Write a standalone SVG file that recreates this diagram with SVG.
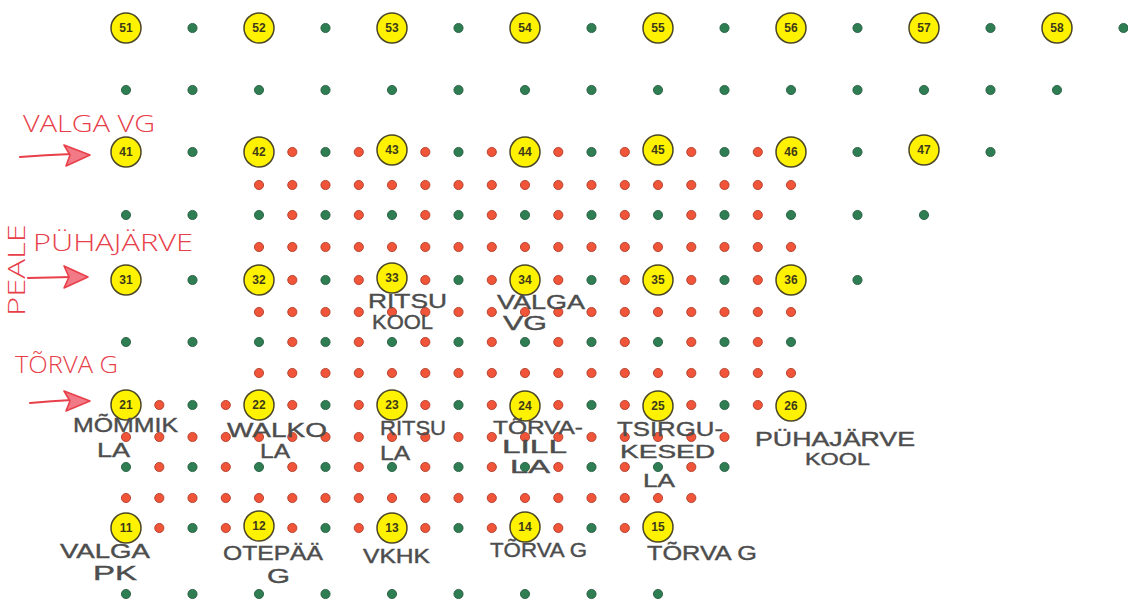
<svg xmlns="http://www.w3.org/2000/svg" xmlns:xlink="http://www.w3.org/1999/xlink" width="1128" height="601" viewBox="0 0 1128 601">
<style>
.yc{fill:#fff200;stroke:#4a4626;stroke-width:1.5}
.yt{font-family:"Liberation Sans","Open Sans",Arial,sans-serif;font-size:12px;font-weight:bold;fill:#3d3a1a;text-anchor:middle}
.hw{font-family:"Liberation Sans","DejaVu Sans",Arial,sans-serif;font-size:21px;fill:#4d4d4d;stroke:#4d4d4d;stroke-width:0.4}
.hs{font-size:18px}
.rw{font-family:"Open Sans","Liberation Sans",Arial,sans-serif;font-weight:300;font-size:24px;fill:#e8404a}
.ar{stroke:#e8404a;stroke-width:2.2;fill:none;stroke-linecap:round}
.ah{stroke:#e8404a;stroke-width:1.6;fill:#f27a86;stroke-linejoin:round}
</style>
<defs>
<circle id="g" cx="0" cy="0" r="4.6" fill="#2f7d52" stroke="#1e573a" stroke-width="0.8"/>
<circle id="r" cx="0" cy="0" r="4.6" fill="#f0553a" stroke="#a8341f" stroke-width="0.8"/>
</defs>
<rect width="1128" height="601" fill="#ffffff"/>

<g id="dots">
<!-- row y=28 -->
<use href="#g" x="192.5" y="28"/><use href="#g" x="325.5" y="28"/><use href="#g" x="458.5" y="28"/><use href="#g" x="591.5" y="28"/><use href="#g" x="724.5" y="28"/><use href="#g" x="857.5" y="28"/><use href="#g" x="990.5" y="28"/><use href="#g" x="1123.5" y="28"/>
<!-- row y=90 -->
<use href="#g" x="126" y="90"/><use href="#g" x="192.5" y="90"/><use href="#g" x="259" y="90"/><use href="#g" x="325.5" y="90"/><use href="#g" x="392" y="90"/><use href="#g" x="458.5" y="90"/><use href="#g" x="525" y="90"/><use href="#g" x="591.5" y="90"/><use href="#g" x="658" y="90"/><use href="#g" x="724.5" y="90"/><use href="#g" x="791" y="90"/><use href="#g" x="857.5" y="90"/><use href="#g" x="924" y="90"/><use href="#g" x="990.5" y="90"/><use href="#g" x="1057" y="90"/>
<!-- row y=152 -->
<use href="#g" x="192.5" y="152"/><use href="#r" x="292.3" y="152"/><use href="#g" x="325.5" y="152"/><use href="#r" x="358.8" y="152"/><use href="#r" x="425.3" y="152"/><use href="#g" x="458.5" y="152"/><use href="#r" x="491.8" y="152"/><use href="#r" x="558.3" y="152"/><use href="#g" x="591.5" y="152"/><use href="#r" x="624.8" y="152"/><use href="#r" x="691.3" y="152"/><use href="#g" x="724.5" y="152"/><use href="#r" x="757.8" y="152"/><use href="#g" x="857.5" y="152"/><use href="#g" x="990.5" y="152"/>
<!-- row y=185 -->
<use href="#r" x="259" y="185"/><use href="#r" x="292.3" y="185"/><use href="#r" x="325.5" y="185"/><use href="#r" x="358.8" y="185"/><use href="#r" x="392" y="185"/><use href="#r" x="425.3" y="185"/><use href="#r" x="458.5" y="185"/><use href="#r" x="491.8" y="185"/><use href="#r" x="525" y="185"/><use href="#r" x="558.3" y="185"/><use href="#r" x="591.5" y="185"/><use href="#r" x="624.8" y="185"/><use href="#r" x="658" y="185"/><use href="#r" x="691.3" y="185"/><use href="#r" x="724.5" y="185"/><use href="#r" x="757.8" y="185"/><use href="#r" x="791" y="185"/>
<!-- row y=215 -->
<use href="#g" x="126" y="215"/><use href="#g" x="192.5" y="215"/><use href="#g" x="259" y="215"/><use href="#r" x="292.3" y="215"/><use href="#g" x="325.5" y="215"/><use href="#r" x="358.8" y="215"/><use href="#g" x="392" y="215"/><use href="#r" x="425.3" y="215"/><use href="#g" x="458.5" y="215"/><use href="#r" x="491.8" y="215"/><use href="#g" x="525" y="215"/><use href="#r" x="558.3" y="215"/><use href="#g" x="591.5" y="215"/><use href="#r" x="624.8" y="215"/><use href="#g" x="658" y="215"/><use href="#r" x="691.3" y="215"/><use href="#g" x="724.5" y="215"/><use href="#r" x="757.8" y="215"/><use href="#g" x="791" y="215"/><use href="#g" x="857.5" y="215"/><use href="#g" x="924" y="215"/>
<!-- row y=247 -->
<use href="#r" x="259" y="247"/><use href="#r" x="292.3" y="247"/><use href="#r" x="325.5" y="247"/><use href="#r" x="358.8" y="247"/><use href="#r" x="392" y="247"/><use href="#r" x="425.3" y="247"/><use href="#r" x="458.5" y="247"/><use href="#r" x="491.8" y="247"/><use href="#r" x="525" y="247"/><use href="#r" x="558.3" y="247"/><use href="#r" x="591.5" y="247"/><use href="#r" x="624.8" y="247"/><use href="#r" x="658" y="247"/><use href="#r" x="691.3" y="247"/><use href="#r" x="724.5" y="247"/><use href="#r" x="757.8" y="247"/><use href="#r" x="791" y="247"/>
<!-- row y=280 -->
<use href="#g" x="192.5" y="280"/><use href="#r" x="292.3" y="280"/><use href="#g" x="325.5" y="280"/><use href="#r" x="358.8" y="280"/><use href="#r" x="425.3" y="280"/><use href="#g" x="458.5" y="280"/><use href="#r" x="491.8" y="280"/><use href="#r" x="558.3" y="280"/><use href="#g" x="591.5" y="280"/><use href="#r" x="624.8" y="280"/><use href="#r" x="691.3" y="280"/><use href="#g" x="724.5" y="280"/><use href="#r" x="757.8" y="280"/><use href="#g" x="857.5" y="280"/>
<!-- row y=312 -->
<use href="#r" x="259" y="312"/><use href="#r" x="292.3" y="312"/><use href="#r" x="325.5" y="312"/><use href="#r" x="358.8" y="312"/><use href="#r" x="392" y="312"/><use href="#r" x="425.3" y="312"/><use href="#r" x="458.5" y="312"/><use href="#r" x="491.8" y="312"/><use href="#r" x="525" y="312"/><use href="#r" x="558.3" y="312"/><use href="#r" x="591.5" y="312"/><use href="#r" x="624.8" y="312"/><use href="#r" x="658" y="312"/><use href="#r" x="691.3" y="312"/><use href="#r" x="724.5" y="312"/><use href="#r" x="757.8" y="312"/><use href="#r" x="791" y="312"/>
<!-- row y=342 -->
<use href="#g" x="126" y="342"/><use href="#g" x="192.5" y="342"/><use href="#g" x="259" y="342"/><use href="#r" x="292.3" y="342"/><use href="#g" x="325.5" y="342"/><use href="#r" x="358.8" y="342"/><use href="#g" x="392" y="342"/><use href="#r" x="425.3" y="342"/><use href="#g" x="458.5" y="342"/><use href="#r" x="491.8" y="342"/><use href="#g" x="525" y="342"/><use href="#r" x="558.3" y="342"/><use href="#g" x="591.5" y="342"/><use href="#r" x="624.8" y="342"/><use href="#g" x="658" y="342"/><use href="#r" x="691.3" y="342"/><use href="#g" x="724.5" y="342"/><use href="#r" x="757.8" y="342"/><use href="#g" x="791" y="342"/>
<!-- row y=373 -->
<use href="#r" x="259" y="373"/><use href="#r" x="292.3" y="373"/><use href="#r" x="325.5" y="373"/><use href="#r" x="358.8" y="373"/><use href="#r" x="392" y="373"/><use href="#r" x="425.3" y="373"/><use href="#r" x="458.5" y="373"/><use href="#r" x="491.8" y="373"/><use href="#r" x="525" y="373"/><use href="#r" x="558.3" y="373"/><use href="#r" x="591.5" y="373"/><use href="#r" x="624.8" y="373"/><use href="#r" x="658" y="373"/><use href="#r" x="691.3" y="373"/><use href="#r" x="724.5" y="373"/><use href="#r" x="757.8" y="373"/><use href="#r" x="791" y="373"/>
<!-- row y=405 -->
<use href="#r" x="159.3" y="405"/><use href="#g" x="192.5" y="405"/><use href="#r" x="225.8" y="405"/><use href="#r" x="292.3" y="405"/><use href="#g" x="325.5" y="405"/><use href="#r" x="358.8" y="405"/><use href="#r" x="425.3" y="405"/><use href="#g" x="458.5" y="405"/><use href="#r" x="491.8" y="405"/><use href="#r" x="558.3" y="405"/><use href="#g" x="591.5" y="405"/><use href="#r" x="624.8" y="405"/><use href="#r" x="691.3" y="405"/><use href="#g" x="724.5" y="405"/><use href="#r" x="757.8" y="405"/>
<!-- row y=437 -->
<use href="#r" x="126" y="437"/><use href="#r" x="159.3" y="437"/><use href="#r" x="192.5" y="437"/><use href="#r" x="225.8" y="437"/><use href="#r" x="259" y="437"/><use href="#r" x="292.3" y="437"/><use href="#r" x="325.5" y="437"/><use href="#r" x="358.8" y="437"/><use href="#r" x="392" y="437"/><use href="#r" x="425.3" y="437"/><use href="#r" x="458.5" y="437"/><use href="#r" x="491.8" y="437"/><use href="#r" x="525" y="437"/><use href="#r" x="558.3" y="437"/><use href="#r" x="591.5" y="437"/><use href="#r" x="624.8" y="437"/><use href="#r" x="658" y="437"/><use href="#r" x="691.3" y="437"/><use href="#r" x="724.5" y="437"/>
<!-- row y=467 -->
<use href="#g" x="126" y="467"/><use href="#r" x="159.3" y="467"/><use href="#g" x="192.5" y="467"/><use href="#r" x="225.8" y="467"/><use href="#g" x="259" y="467"/><use href="#r" x="292.3" y="467"/><use href="#g" x="325.5" y="467"/><use href="#r" x="358.8" y="467"/><use href="#g" x="392" y="467"/><use href="#r" x="425.3" y="467"/><use href="#g" x="458.5" y="467"/><use href="#r" x="491.8" y="467"/><use href="#g" x="525" y="467"/><use href="#r" x="558.3" y="467"/><use href="#g" x="591.5" y="467"/><use href="#r" x="624.8" y="467"/><use href="#g" x="658" y="467"/><use href="#r" x="691.3" y="467"/><use href="#g" x="724.5" y="467"/>
<!-- row y=498 -->
<use href="#r" x="126" y="498"/><use href="#r" x="159.3" y="498"/><use href="#r" x="192.5" y="498"/><use href="#r" x="225.8" y="498"/><use href="#r" x="259" y="498"/><use href="#r" x="292.3" y="498"/><use href="#r" x="325.5" y="498"/><use href="#r" x="358.8" y="498"/><use href="#r" x="392" y="498"/><use href="#r" x="425.3" y="498"/><use href="#r" x="458.5" y="498"/><use href="#r" x="491.8" y="498"/><use href="#r" x="525" y="498"/><use href="#r" x="558.3" y="498"/><use href="#r" x="591.5" y="498"/><use href="#r" x="624.8" y="498"/><use href="#r" x="658" y="498"/><use href="#r" x="691.3" y="498"/>
<!-- row y=528 -->
<use href="#r" x="159.3" y="528"/><use href="#g" x="192.5" y="528"/><use href="#r" x="225.8" y="528"/><use href="#r" x="292.3" y="528"/><use href="#g" x="325.5" y="528"/><use href="#r" x="358.8" y="528"/><use href="#r" x="425.3" y="528"/><use href="#g" x="458.5" y="528"/><use href="#r" x="491.8" y="528"/><use href="#r" x="558.3" y="528"/><use href="#g" x="591.5" y="528"/><use href="#r" x="624.8" y="528"/>
<!-- row y=594 -->
<use href="#g" x="126" y="594"/><use href="#g" x="192.5" y="594"/><use href="#g" x="259" y="594"/><use href="#g" x="325.5" y="594"/><use href="#g" x="392" y="594"/><use href="#g" x="458.5" y="594"/><use href="#g" x="525" y="594"/><use href="#g" x="591.5" y="594"/><use href="#g" x="658" y="594"/>
</g>

<g id="n51"><circle class="yc" cx="126" cy="28" r="15"/><text class="yt" x="126" y="32">51</text></g>
<g id="n52"><circle class="yc" cx="259" cy="28" r="15"/><text class="yt" x="259" y="32">52</text></g>
<g id="n53"><circle class="yc" cx="392" cy="28" r="15"/><text class="yt" x="392" y="32">53</text></g>
<g id="n54"><circle class="yc" cx="525" cy="28" r="15"/><text class="yt" x="525" y="32">54</text></g>
<g id="n55"><circle class="yc" cx="658" cy="28" r="15"/><text class="yt" x="658" y="32">55</text></g>
<g id="n56"><circle class="yc" cx="791" cy="28" r="15"/><text class="yt" x="791" y="32">56</text></g>
<g id="n57"><circle class="yc" cx="924" cy="28" r="15"/><text class="yt" x="924" y="32">57</text></g>
<g id="n58"><circle class="yc" cx="1057" cy="28" r="15"/><text class="yt" x="1057" y="32">58</text></g>

<g id="n41"><circle class="yc" cx="126" cy="152" r="15"/><text class="yt" x="126" y="156">41</text></g>
<g id="n42"><circle class="yc" cx="259" cy="152" r="15"/><text class="yt" x="259" y="156">42</text></g>
<g id="n43"><circle class="yc" cx="392" cy="150" r="15"/><text class="yt" x="392" y="154">43</text></g>
<g id="n44"><circle class="yc" cx="525" cy="152" r="15"/><text class="yt" x="525" y="156">44</text></g>
<g id="n45"><circle class="yc" cx="658" cy="150" r="15"/><text class="yt" x="658" y="154">45</text></g>
<g id="n46"><circle class="yc" cx="791" cy="152" r="15"/><text class="yt" x="791" y="156">46</text></g>
<g id="n47"><circle class="yc" cx="924" cy="150" r="15"/><text class="yt" x="924" y="154">47</text></g>

<g id="n31"><circle class="yc" cx="126" cy="280" r="15"/><text class="yt" x="126" y="284">31</text></g>
<g id="n32"><circle class="yc" cx="259" cy="280" r="15"/><text class="yt" x="259" y="284">32</text></g>
<g id="n33"><circle class="yc" cx="392" cy="278" r="15"/><text class="yt" x="392" y="282">33</text></g>
<g id="n34"><circle class="yc" cx="525" cy="280" r="15"/><text class="yt" x="525" y="284">34</text></g>
<g id="n35"><circle class="yc" cx="658" cy="280" r="15"/><text class="yt" x="658" y="284">35</text></g>
<g id="n36"><circle class="yc" cx="791" cy="280" r="15"/><text class="yt" x="791" y="284">36</text></g>

<g id="n21"><circle class="yc" cx="126" cy="405" r="15"/><text class="yt" x="126" y="409">21</text></g>
<g id="n22"><circle class="yc" cx="259" cy="405" r="15"/><text class="yt" x="259" y="409">22</text></g>
<g id="n23"><circle class="yc" cx="392" cy="405" r="15"/><text class="yt" x="392" y="409">23</text></g>
<g id="n24"><circle class="yc" cx="525" cy="406" r="15"/><text class="yt" x="525" y="410">24</text></g>
<g id="n25"><circle class="yc" cx="658" cy="406" r="15"/><text class="yt" x="658" y="410">25</text></g>
<g id="n26"><circle class="yc" cx="791" cy="406" r="15"/><text class="yt" x="791" y="410">26</text></g>

<g id="n11"><circle class="yc" cx="126" cy="528" r="15"/><text class="yt" x="126" y="532">11</text></g>
<g id="n12"><circle class="yc" cx="259" cy="526" r="15"/><text class="yt" x="259" y="530">12</text></g>
<g id="n13"><circle class="yc" cx="392" cy="528" r="15"/><text class="yt" x="392" y="532">13</text></g>
<g id="n14"><circle class="yc" cx="525" cy="527" r="15"/><text class="yt" x="525" y="531">14</text></g>
<g id="n15"><circle class="yc" cx="658" cy="527" r="15"/><text class="yt" x="658" y="531">15</text></g>

<g id="connectors">
<path class="ar" d="M20 157 Q45 155 72 154"/>
<path class="ah" d="M64 145 L90 155 L66 166 L70 155 Z"/>
<path class="ar" d="M28 278 L72 277"/>
<path class="ah" d="M64 266 L88 277 L64 288 L69 277 Z"/>
<path class="ar" d="M30 403 Q52 401 72 400"/>
<path class="ah" d="M64 391 L90 401 L66 411 L70 401 Z"/>
</g>

<g id="red-labels">
<text class="rw" x="23" y="132" textLength="132" lengthAdjust="spacingAndGlyphs">VALGA VG</text>
<text class="rw" x="33" y="251" textLength="160" lengthAdjust="spacingAndGlyphs">PÜHAJÄRVE</text>
<text class="rw" x="25" y="270" text-anchor="middle" transform="rotate(-90 25 270)" textLength="92" lengthAdjust="spacingAndGlyphs">PEALE</text>
<text class="rw" x="15" y="373" textLength="103" lengthAdjust="spacingAndGlyphs">TÕRVA G</text>
</g>

<g id="labels">
<text class="hw" x="368" y="308" textLength="79" lengthAdjust="spacingAndGlyphs">RITSU</text>
<text class="hw" x="372" y="329" textLength="61" lengthAdjust="spacingAndGlyphs">KOOL</text>
<text class="hw" x="497" y="309" textLength="88" lengthAdjust="spacingAndGlyphs">VALGA</text>
<text class="hw" x="503" y="330" textLength="44" lengthAdjust="spacingAndGlyphs">VG</text>
<text class="hw" x="73" y="432" textLength="105" lengthAdjust="spacingAndGlyphs">MÕMMIK</text>
<text class="hw" x="97" y="457" textLength="33" lengthAdjust="spacingAndGlyphs">LA</text>
<text class="hw" x="227" y="437" textLength="100" lengthAdjust="spacingAndGlyphs">WALKO</text>
<text class="hw" x="260" y="458" textLength="30" lengthAdjust="spacingAndGlyphs">LA</text>
<text class="hw" x="380" y="435" textLength="66" lengthAdjust="spacingAndGlyphs">RITSU</text>
<text class="hw" x="380" y="460" textLength="30" lengthAdjust="spacingAndGlyphs">LA</text>
<text class="hw hs" x="493" y="434" textLength="90" lengthAdjust="spacingAndGlyphs">TÕRVA-</text>
<text class="hw hs" x="502" y="453" textLength="65" lengthAdjust="spacingAndGlyphs">LILL</text>
<text class="hw hs" x="510" y="473" textLength="40" lengthAdjust="spacingAndGlyphs">LA</text>
<text class="hw" x="617" y="436" textLength="106" lengthAdjust="spacingAndGlyphs">TSIRGU-</text>
<text class="hw hs" x="620" y="458" textLength="95" lengthAdjust="spacingAndGlyphs">KESED</text>
<text class="hw hs" x="643" y="487" textLength="32" lengthAdjust="spacingAndGlyphs">LA</text>
<text class="hw" x="755" y="446" textLength="160" lengthAdjust="spacingAndGlyphs">PÜHAJÄRVE</text>
<text class="hw" x="805" y="465" style="font-size:17px" textLength="65" lengthAdjust="spacingAndGlyphs">KOOL</text>
<text class="hw" x="60" y="558" textLength="90" lengthAdjust="spacingAndGlyphs">VALGA</text>
<text class="hw" x="93" y="580" textLength="44" lengthAdjust="spacingAndGlyphs">PK</text>
<text class="hw" x="223" y="560" textLength="100" lengthAdjust="spacingAndGlyphs">OTEPÄÄ</text>
<text class="hw" x="267" y="583" textLength="23" lengthAdjust="spacingAndGlyphs">G</text>
<text class="hw" x="363" y="563" textLength="67" lengthAdjust="spacingAndGlyphs">VKHK</text>
<text class="hw" x="490" y="557" textLength="97" lengthAdjust="spacingAndGlyphs">TÕRVA G</text>
<text class="hw" x="647" y="560" textLength="110" lengthAdjust="spacingAndGlyphs">TÕRVA G</text>
</g>
</svg>
